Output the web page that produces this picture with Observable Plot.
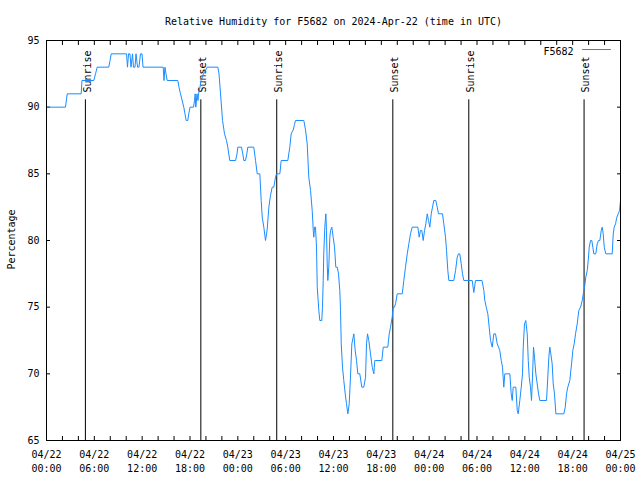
<!DOCTYPE html>
<html>
<head>
<meta charset="utf-8">
<script src="https://cdn.jsdelivr.net/npm/d3@7"></script>
<script src="https://cdn.jsdelivr.net/npm/@observablehq/plot@0.6"></script>
<style>
  html, body { margin: 0; padding: 0; background: white; }
</style>
</head>
<body>
<div id="chart"></div>
<script>
const titleText = "Relative Humidity for F5682 on 2024-Apr-22 (time in UTC)";
const seriesName = "F5682";
const yLabel = "Percentage";
const startUTC = Date.UTC(2024, 3, 22, 0, 0);

// hours since 2024-04-22 00:00 UTC
const hours = [0,2.38,2.60,4.35,4.45,5.93,6.15,6.36,7.81,7.97,8.12,10.04,10.16,10.29,10.47,10.60,10.79,10.91,11.10,11.23,11.42,11.60,11.79,11.98,12.11,14.64,14.74,14.86,14.99,15.14,16.47,16.62,16.81,17.22,17.37,17.52,17.72,17.85,18.00,18.44,18.57,18.65,18.73,18.88,19.00,19.07,19.26,19.38,19.69,20.16,21.49,21.64,21.83,22.08,22.33,22.58,22.74,22.99,23.71,23.90,24.00,24.46,24.62,24.75,24.96,25.13,25.25,26.00,26.22,26.43,26.76,26.93,27.06,27.26,27.47,27.68,27.89,28.10,28.31,28.51,28.73,28.85,29.27,29.44,30.27,30.52,30.69,30.95,31.11,31.23,32.28,32.49,32.70,32.90,33.12,33.33,33.46,33.53,33.62,33.74,33.87,33.96,34.16,34.28,34.53,34.62,34.71,34.78,34.91,35.04,35.12,35.21,35.29,35.41,35.54,35.63,35.79,35.96,36.13,36.29,36.47,36.63,36.79,36.88,36.97,37.13,37.29,37.47,37.63,37.80,37.97,38.13,38.30,38.47,38.55,38.72,38.89,39.05,39.30,39.55,39.80,40.02,40.14,40.27,40.43,40.64,40.86,41.06,41.18,41.31,42.06,42.24,42.81,42.99,43.15,43.36,43.49,43.65,43.78,43.99,44.62,44.82,45.03,45.25,45.45,45.66,45.87,46.58,46.75,46.91,47.08,47.25,47.42,47.58,47.76,47.92,48.08,48.26,48.42,48.58,48.83,49.01,49.17,49.67,49.84,50.05,50.18,50.34,50.47,51.09,51.31,51.52,51.68,51.84,52.02,52.18,52.35,53.40,53.60,53.81,54.63,54.86,54.98,55.16,55.36,55.53,55.70,55.91,56.11,56.32,56.54,56.70,56.86,57.04,57.20,57.36,57.49,58.12,58.29,58.42,58.54,58.87,59.05,59.17,59.37,59.55,59.71,59.80,59.96,60.12,60.30,60.43,60.55,60.71,60.84,60.96,61.09,61.21,61.38,61.55,61.72,61.88,62.72,62.88,63.01,63.13,63.26,63.43,63.56,63.72,63.89,64.89,65.07,65.23,65.39,65.64,65.86,66.02,66.19,66.36,66.57,66.77,66.99,67.20,67.40,67.49,67.65,67.83,67.95,68.08,68.24,68.40,68.53,68.65,68.90,69.08,69.24,69.41,69.58,69.71,69.83,69.96,70.16,70.96,71.09,71.21,71.38,71.54,71.72,71.88,72.00];

// relative humidity (%)
const humidity = [90,90,91,91,92,92,92.5,93,93,93.5,94,94,93,94,94,93,94,93,93,94,93,93,94,94,93,93,92,93,92.5,92,92,91.5,91,90,89.5,89,89,89.5,90,90,90.5,91,90,91,90.5,91,91.5,92,92.5,93,93,92.5,91,89,88,87.5,87,86,86,86.5,87,87,86.5,86,86,86.5,87,87,86,85,85,83,81.75,81,80,80.8,82.5,83.4,84,84,84.75,85,85,86,86,87,88,88.3,88.7,89,89,88.3,87.25,84.75,83.75,82.25,80.75,80.25,81,81,79.5,76.5,74.75,74,74,75,77,79,81,82,80.75,78.25,77,78,80.25,80.75,81,80.25,79.5,78,78,77.5,76.25,74.75,72.25,70.5,69.5,68.5,67.75,67,67.75,69.75,72.25,72.75,73,71.75,71,70,70,69,69,69.75,72.25,73,72.5,71.5,70.5,70,71,71,71,72,72,73,73.5,74.25,75,75,75.25,76,76,77,78,79,79.75,80.5,81,81,80.25,80.75,80.75,80,80.75,81.25,82,81.5,81,82,82.5,83,83,82.5,82,82,81.25,80.25,79.25,77.75,77,77,77.75,78.75,79,79,78.25,77.5,77,77,76.1,77,77,76.25,75.5,75,74.5,73.5,72.5,72,73,73,72.25,72,71.75,71,70.5,69,70,70,68.5,68,69,69,67.25,67,68,69,70,72,73.75,74,73,71,69.75,69,68,69.75,72,71.25,70,69.25,68.5,68,68,69.75,71.25,72,71.5,70.75,69.25,68.5,67,67,67.5,68.5,69,69.5,70.75,71.75,72.25,73,73.75,74.75,75,75.5,76.25,76.5,77.25,77.75,78.5,79.5,80,80,79.5,79,79,79.75,80,80,80.75,81,80.5,79.5,79,79,80.5,81,81.25,81.75,82,82.25,83];

// sun events
const sunLabels = ["Sunrise", "Sunset", "Sunrise", "Sunset", "Sunrise", "Sunset"];
const sunHours = [4.88, 19.36, 28.88, 43.44, 52.97, 67.43];

// axis ticks
const yTicks = [65, 70, 75, 80, 85, 90, 95];
const xMinorStepHours = 2;
const xLabelStepHours = 6;
const totalHours = 72;

const toDate = h => new Date(startUTC + h * 3600e3);
const data = hours.map((h, i) => ({date: toDate(h), value: humidity[i]}));
const sun = sunHours.map((h, i) => ({date: toDate(h), label: sunLabels[i]}));
const xTickMarks = d3.range(0, totalHours + 1, xMinorStepHours).map(toDate);
const xTickLabels = d3.range(0, totalHours + 1, xLabelStepHours).map(toDate);
const fmt = d3.utcFormat("%m/%d\n%H:%M");

const lineColor = "#1a8cff";
const sunLineTop = 90.55;
const sunLabelY = 91.1;

const chart = Plot.plot({
  width: 640,
  height: 480,
  marginLeft: 46,
  marginRight: 20,
  marginTop: 40,
  marginBottom: 40,
  style: {fontFamily: "'DejaVu Sans Mono', monospace", fontSize: "10px", background: "white", color: "black"},
  x: {type: "utc", domain: [toDate(0), toDate(totalHours)]},
  y: {domain: [65, 95]},
  marks: [
    // tick marks (inward)
    Plot.axisX({anchor: "bottom", ticks: xTickMarks, tickSize: 4, dy: -4, tickFormat: () => "", label: null}),
    Plot.axisX({anchor: "top", ticks: xTickMarks, tickSize: 4, dy: 4, tickFormat: () => "", label: null}),
    Plot.axisY({anchor: "left", ticks: yTicks, tickSize: 4, dx: 4, tickFormat: () => "", label: null}),
    Plot.axisY({anchor: "right", ticks: yTicks, tickSize: 4, dx: -4, tickFormat: () => "", label: null}),
    // tick labels
    Plot.axisX({anchor: "bottom", ticks: xTickLabels, tickSize: 0, tickPadding: 8, tickFormat: fmt, lineHeight: 1.4, label: null}),
    Plot.axisY({anchor: "left", ticks: yTicks, tickSize: 0, tickPadding: 7, tickFormat: d => String(d), label: null}),
    // sun lines
    Plot.ruleX(sun, {x: "date", y1: 65, y2: sunLineTop, stroke: "black", strokeWidth: 1}),
    Plot.text(sun, {x: "date", y: sunLabelY, text: "label", rotate: -90, textAnchor: "start", dx: 2}),
    // data
    Plot.line(data, {x: "date", y: "value", stroke: lineColor, strokeWidth: 1}),
    Plot.frame({stroke: "black", strokeWidth: 1}),
    // legend
    Plot.text([seriesName], {frameAnchor: "top-right", dx: -47, dy: 7, textAnchor: "end"}),
    Plot.vector([seriesName], {frameAnchor: "top-right", dx: -38, dy: 9, rotate: 90, length: 28, anchor: "start", stroke: lineColor, strokeWidth: 1,
      shape: {draw(context, l) { context.moveTo(0, 0); context.lineTo(0, -l); }}}),
    // title and y label
    Plot.text([titleText], {frameAnchor: "top", dy: -23}),
    Plot.text([yLabel], {frameAnchor: "left", dx: -35, dy: -1, rotate: -90, textAnchor: "middle"})
  ]
});
document.getElementById("chart").appendChild(chart);
</script>
</body>
</html>
